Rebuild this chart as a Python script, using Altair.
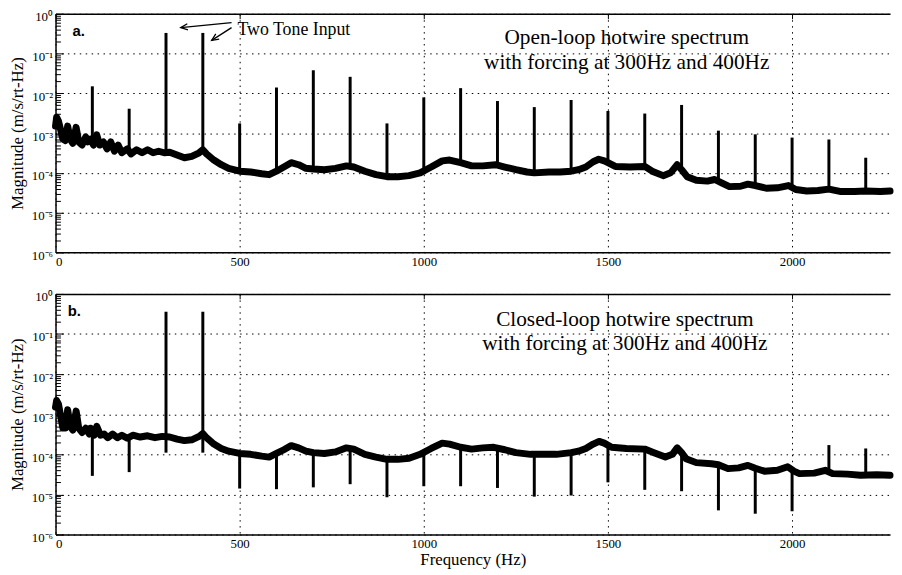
import altair as alt
import pandas as pd

# ---------------- data ----------------
# Panel a: open-loop broadband spectrum (Hz, m/s/rt-Hz)
a_freq = [0, 3, 8, 14, 20, 27, 33, 40, 47, 56, 63, 72, 82, 88, 95, 103, 112, 120, 130, 140,
          150, 160, 170, 180, 195, 205, 220, 235, 250, 265, 280, 295, 310, 330, 350, 370, 390,
          400, 410, 430, 450, 470, 500, 530, 560, 580, 600, 620, 640, 660, 680, 700, 730, 760,
          790, 810, 840, 870, 900, 930, 960, 990, 1020, 1050, 1070, 1100, 1130, 1160, 1195,
          1220, 1250, 1280, 1300, 1340, 1370, 1400, 1420, 1440, 1460, 1475, 1490, 1500, 1520,
          1560, 1600, 1620, 1650, 1670, 1688, 1700, 1715, 1740, 1770, 1790, 1810, 1830, 1860,
          1880, 1900, 1930, 1960, 1990, 2010, 2040, 2070, 2100, 2130, 2170, 2200, 2240, 2266]
a_mag = [1.5e-3, 2.5e-3, 2.0e-3, 1.2e-3, 7e-4, 6.5e-4, 1.5e-3, 7e-4, 5.5e-4, 1.4e-3, 6e-4,
         5e-4, 8e-4, 6e-4, 7e-4, 5e-4, 9e-4, 5e-4, 6e-4, 4e-4, 6e-4, 3.5e-4, 5e-4, 3.2e-4,
         4e-4, 3e-4, 3.8e-4, 3.2e-4, 3.8e-4, 3.2e-4, 3.5e-4, 3.2e-4, 3.3e-4, 2.8e-4, 2.4e-4,
         2.6e-4, 3.2e-4, 3.8e-4, 3e-4, 2.1e-4, 1.6e-4, 1.3e-4, 1.1e-4, 1.05e-4, 9.5e-5, 9e-5,
         1.1e-4, 1.4e-4, 1.8e-4, 1.6e-4, 1.3e-4, 1.25e-4, 1.2e-4, 1.3e-4, 1.5e-4, 1.4e-4,
         1.1e-4, 9e-5, 8e-5, 8e-5, 8.5e-5, 1e-4, 1.4e-4, 2e-4, 2.1e-4, 1.8e-4, 1.5e-4, 1.5e-4,
         1.6e-4, 1.4e-4, 1.2e-4, 1.05e-4, 1e-4, 1.05e-4, 1.05e-4, 1.1e-4, 1.2e-4, 1.4e-4,
         1.9e-4, 2.2e-4, 2e-4, 1.8e-4, 1.45e-4, 1.4e-4, 1.45e-4, 1.1e-4, 8.5e-5, 1e-4, 1.6e-4,
         1.2e-4, 8e-5, 6.5e-5, 6.2e-5, 6.8e-5, 5.5e-5, 4.5e-5, 4.6e-5, 5.2e-5, 4.8e-5, 4.1e-5,
         4.2e-5, 4.8e-5, 3.8e-5, 3.5e-5, 3.6e-5, 3.9e-5, 3.4e-5, 3.4e-5, 3.5e-5, 3.4e-5, 3.5e-5]

# Panel a: harmonic spikes (frequency, tip, foot)
a_spike_freq = [100, 200, 300, 400, 500, 600, 700, 800, 900, 1000, 1100, 1200, 1300, 1400,
                1500, 1600, 1700, 1800, 1900, 2000, 2100, 2200]
a_spike_top = [1.5e-2, 4.1e-3, 0.33, 0.33, 1.75e-3, 1.4e-2, 3.8e-2, 2.6e-2, 1.75e-3, 7.9e-3,
               1.35e-2, 6.4e-3, 4.5e-3, 6.8e-3, 3.6e-3, 3.1e-3, 5.1e-3, 1.15e-3, 9.3e-4,
               7.7e-4, 6.9e-4, 2.4e-4]
a_spike_bottom = [6e-4, 3.2e-4, 3.2e-4, 3.8e-4, 1.1e-4, 1.1e-4, 1.25e-4, 1.45e-4, 8e-5,
                  1.15e-4, 1.8e-4, 1.55e-4, 1e-4, 1.1e-4, 1.8e-4, 1.45e-4, 1.2e-4, 6e-5,
                  4.8e-5, 4.3e-5, 3.9e-5, 3.5e-5]

# Panel b: closed-loop broadband spectrum
b_freq = [0, 3, 8, 14, 20, 27, 33, 40, 47, 56, 63, 72, 82, 92, 95, 105, 112, 122, 132, 142,
          155, 168, 180, 195, 210, 230, 250, 270, 290, 310, 330, 350, 370, 390, 400, 410, 430,
          450, 470, 500, 530, 560, 580, 600, 620, 640, 660, 680, 700, 730, 760, 790, 810, 840,
          870, 900, 930, 960, 990, 1020, 1050, 1070, 1100, 1130, 1160, 1190, 1220, 1250, 1290,
          1330, 1360, 1400, 1420, 1440, 1460, 1476, 1490, 1510, 1550, 1600, 1625, 1656, 1675,
          1688, 1700, 1712, 1740, 1781, 1800, 1826, 1855, 1880, 1900, 1925, 1960, 1988, 2005,
          2020, 2060, 2090, 2110, 2150, 2186, 2230, 2266]
b_mag = [1.5e-3, 2.2e-3, 1.8e-3, 9e-4, 4.5e-4, 4.5e-4, 1.3e-3, 5e-4, 4e-4, 1.2e-3, 4.5e-4,
         3.5e-4, 4.5e-4, 3.2e-4, 4.5e-4, 3e-4, 5e-4, 3e-4, 3.2e-4, 2.6e-4, 3.2e-4, 2.6e-4,
         3e-4, 2.5e-4, 3e-4, 2.7e-4, 2.9e-4, 2.6e-4, 2.8e-4, 2.7e-4, 2.4e-4, 2.2e-4, 2.3e-4,
         2.8e-4, 3.3e-4, 2.6e-4, 1.8e-4, 1.4e-4, 1.2e-4, 1.05e-4, 1e-4, 9e-5, 8.5e-5, 1.05e-4,
         1.3e-4, 1.65e-4, 1.45e-4, 1.2e-4, 1.1e-4, 1.05e-4, 1.15e-4, 1.45e-4, 1.35e-4, 1e-4,
         8.5e-5, 7.5e-5, 7.5e-5, 8e-5, 1e-4, 1.4e-4, 1.9e-4, 1.8e-4, 1.5e-4, 1.35e-4, 1.45e-4,
         1.5e-4, 1.3e-4, 1.1e-4, 1e-4, 1e-4, 1e-4, 1.1e-4, 1.2e-4, 1.4e-4, 1.8e-4, 2.1e-4,
         1.9e-4, 1.5e-4, 1.4e-4, 1.35e-4, 1.1e-4, 8.6e-5, 1e-4, 1.45e-4, 1.1e-4, 7.8e-5,
         6.2e-5, 5.8e-5, 5.5e-5, 4.4e-5, 4.6e-5, 5.3e-5, 4.5e-5, 3.8e-5, 4e-5, 4.9e-5, 3.8e-5,
         3.3e-5, 3.4e-5, 4e-5, 3.3e-5, 3.2e-5, 3e-5, 3.1e-5, 3e-5]

# Panel b: forcing spikes and notches (frequency, top, bottom)
b_spike_freq = [100, 200, 300, 400, 500, 600, 700, 800, 900, 1000, 1100, 1200, 1300, 1400,
                1500, 1600, 1700, 1800, 1900, 2000, 2100, 2200]
b_spike_top = [3.5e-4, 2.7e-4, 0.36, 0.36, 1.05e-4, 1.05e-4, 1.1e-4, 1.4e-4, 7.5e-5, 1.05e-4,
               1.5e-4, 1.45e-4, 1e-4, 1.1e-4, 1.8e-4, 1.35e-4, 1.1e-4, 5.5e-5, 4.5e-5, 4e-5,
               1.7e-4, 1.4e-4]
b_spike_bottom = [2.9e-5, 3.6e-5, 1.1e-4, 1.1e-4, 1.4e-5, 1.35e-5, 1.5e-5, 1.8e-5, 8.5e-6,
                  1.6e-5, 1.6e-5, 1.45e-5, 8.8e-6, 9.4e-6, 2e-5, 1.3e-5, 1.2e-5, 4e-6, 3.3e-6,
                  3.8e-6, 3.5e-5, 3.1e-5]

# Axis ticks
x_ticks = [0, 500, 1000, 1500, 2000]
y_decades = [1e-6, 1e-5, 1e-4, 1e-3, 1e-2, 1e-1, 1.0]
y_minor = [m * 10.0 ** k for k in range(-6, 0) for m in range(1, 10)] + [1.0]

# Texts
a_title = ["Open-loop hotwire spectrum", "with forcing at 300Hz and 400Hz"]
b_title = ["Closed-loop hotwire spectrum", "with forcing at 300Hz and 400Hz"]
a_title_pos = {"freq": [1551, 1551], "mag": [0.24, 0.057]}
b_title_pos = {"freq": [1546, 1546], "mag": [0.228, 0.055]}
a_tag = {"freq": [46], "mag": [0.36], "text": ["a."]}
b_tag = {"freq": [33], "mag": [0.37], "text": ["b."]}
note = {"freq": [494], "mag": [0.40], "text": ["Two Tone Input"]}
arrow_tail_f = [478, 478]
arrow_tail_m = [0.60, 0.45]
arrow_head_f = [340, 424]
arrow_head_m = [0.45, 0.215]
arrow_angle = [354, 327]

# ---------------- chart ----------------
W = 843
X_MAX = 2266
SERIF = "Liberation Serif"
DOTS = [1.5, 4.5]

xscale = alt.Scale(domain=[0, X_MAX], nice=False, zero=False)
yscale = alt.Scale(type="log", domain=[1e-6, 1], nice=False)

sup_expr = ("'10' + (round(log(datum.value)/LN10) < 0 ? '\u207b' : '') + "
            "['\u2070','\u00b9','\u00b2','\u00b3','\u2074','\u2075','\u2076']"
            "[abs(round(log(datum.value)/LN10))]")
is_decade = "abs(log(datum.value)/LN10 - round(log(datum.value)/LN10)) < 0.001"


def panel(freq, mag, sf, st, sb, title_lines, title_pos, tag, height, xtitle, with_note):
    base = pd.DataFrame({"freq": freq, "mag": mag})
    spikes = pd.DataFrame({"freq": sf, "top": st, "bottom": sb})
    titles = pd.DataFrame({"freq": title_pos["freq"], "mag": title_pos["mag"], "text": title_lines})
    tags = pd.DataFrame(tag)

    xaxis = dict(values=x_ticks, grid=True, gridDash=DOTS, gridColor="black", gridWidth=1,
                 gridOpacity=1, ticks=False, domain=True, domainColor="black", domainWidth=1.5,
                 labelPadding=3, format="d", titlePadding=1,
                 labelFont=SERIF, labelFontSize=13, labelColor="black",
                 titleFont=SERIF, titleFontSize=17, titleFontWeight="normal", titleColor="black")
    xaxis["title"] = xtitle if xtitle else None

    line = alt.Chart(base).mark_line(color="black", strokeWidth=7, strokeJoin="round",
                                     strokeCap="round").encode(
        x=alt.X("freq:Q", scale=xscale, axis=alt.Axis(**xaxis)),
        y=alt.Y("mag:Q", scale=yscale,
                axis=alt.Axis(values=y_decades, grid=True, gridDash=DOTS, gridColor="black",
                              gridWidth=1, gridOpacity=1, ticks=False, domain=True,
                              domainColor="black", domainWidth=1.5, labelExpr=sup_expr,
                              labelPadding=3, labelOffset=3,
                              title="Magnitude (m/s/rt-Hz)", titlePadding=5,
                              labelFont=SERIF, labelFontSize=13, labelColor="black",
                              titleFont=SERIF, titleFontSize=17, titleFontWeight="normal",
                              titleColor="black")),
    )
    rules = alt.Chart(spikes).mark_rule(color="black", strokeWidth=3).encode(
        x=alt.X("freq:Q", scale=xscale,
                axis=alt.Axis(orient="bottom", offset=-height, values=x_ticks, labels=False,
                              grid=False, domain=True, domainColor="black", domainWidth=1.5,
                              ticks=True, tickSize=5, tickColor="black", title=None)),
        y=alt.Y("top:Q", scale=yscale,
                axis=alt.Axis(orient="right", offset=-W, values=y_minor, labels=False,
                              grid=False, domain=False, ticks=True,
                              tickSize={"condition": {"test": is_decade, "value": 8}, "value": 5},
                              tickColor="black", tickWidth=1, title=None)),
        y2="bottom:Q",
    )
    ttl = alt.Chart(titles).mark_text(font=SERIF, fontSize=21.5, color="black",
                                      align="center", baseline="middle").encode(
        x=alt.X("freq:Q", scale=xscale, axis=None),
        y=alt.Y("mag:Q", scale=yscale, axis=None),
        text="text:N",
    )
    tg = alt.Chart(tags).mark_text(font="Liberation Sans", fontSize=15, fontWeight="bold",
                                   color="black", align="left", baseline="middle").encode(
        x=alt.X("freq:Q", scale=xscale, axis=None),
        y=alt.Y("mag:Q", scale=yscale, axis=None),
        text="text:N",
    )
    layers = [line, rules, ttl, tg]
    if with_note:
        nt = alt.Chart(pd.DataFrame(note)).mark_text(font=SERIF, fontSize=18, color="black",
                                                     align="left", baseline="middle").encode(
            x=alt.X("freq:Q", scale=xscale, axis=None),
            y=alt.Y("mag:Q", scale=yscale, axis=None),
            text="text:N",
        )
        adf = pd.DataFrame({"f0": arrow_tail_f, "m0": arrow_tail_m, "f1": arrow_head_f,
                            "m1": arrow_head_m, "ang": arrow_angle})
        shafts = alt.Chart(adf).mark_rule(color="black", strokeWidth=1.3).encode(
            x=alt.X("f0:Q", scale=xscale, axis=None), x2="f1:Q",
            y=alt.Y("m0:Q", scale=yscale, axis=None), y2="m1:Q",
        )
        heads = alt.Chart(adf).mark_point(shape="M1,-0.45L0,0L1,0.45", filled=False,
                                          color="black", strokeWidth=1.3, size=196,
                                          opacity=1).encode(
            x=alt.X("f1:Q", scale=xscale, axis=None),
            y=alt.Y("m1:Q", scale=yscale, axis=None),
            angle=alt.Angle("ang:Q", scale=None),
        )
        layers += [nt, shafts, heads]
    return alt.layer(*layers).resolve_axis(x="independent", y="independent").properties(
        width=W, height=height)


pa = panel(a_freq, a_mag, a_spike_freq, a_spike_top, a_spike_bottom, a_title, a_title_pos,
           a_tag, 241, None, True)
pb = panel(b_freq, b_mag, b_spike_freq, b_spike_top, b_spike_bottom, b_title, b_title_pos,
           b_tag, 243, "Frequency (Hz)", False)

chart = alt.vconcat(pa, pb, spacing=23).properties(
    padding=0, background="white"
).configure_view(stroke=None)

chart.save("out.html", embed_options={"renderer": "svg", "actions": False})
